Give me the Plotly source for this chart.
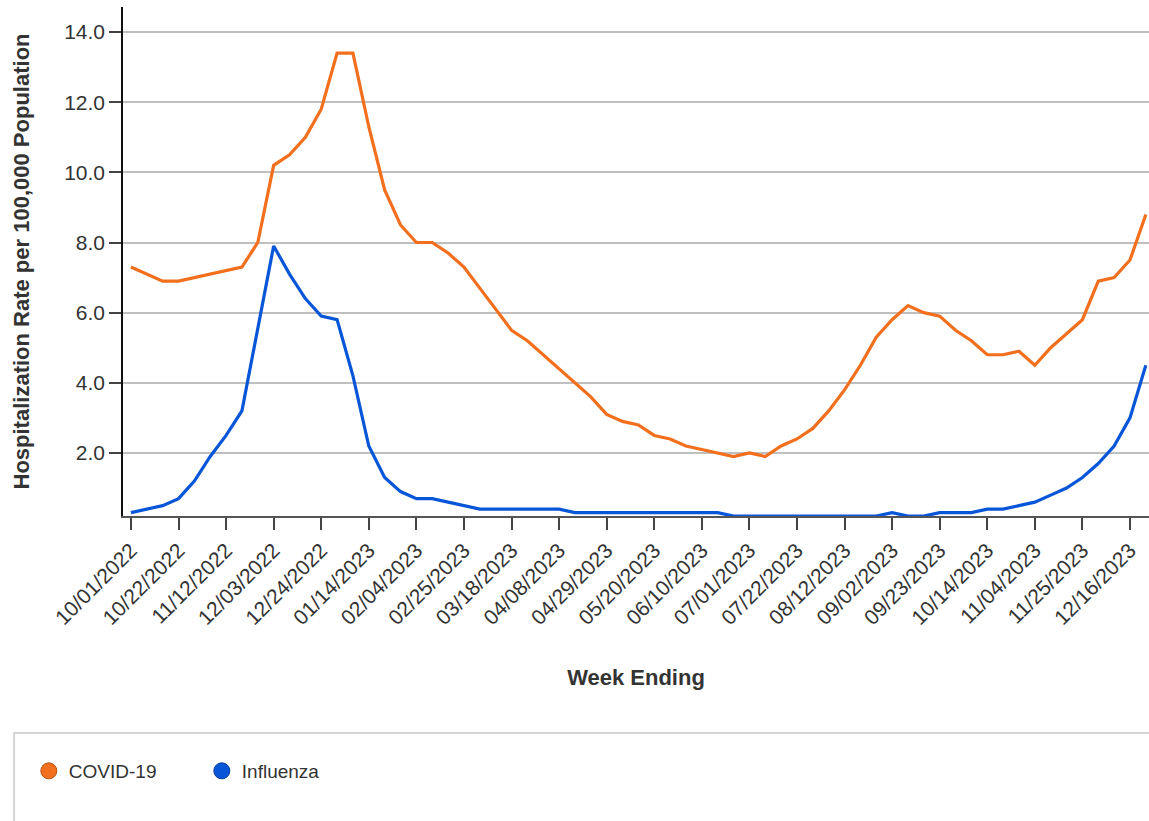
import pandas as pd
import plotly.graph_objects as go

# Week-ending dates (weekly, Saturdays)
week_ending = pd.date_range("2022-10-01", periods=65, freq="7D")

covid_rate = [
    7.3, 7.1, 6.9, 6.9, 7.0, 7.1, 7.2, 7.3, 8.0, 10.2,
    10.5, 11.0, 11.8, 13.4, 13.4, 11.3, 9.5, 8.5, 8.0, 8.0,
    7.7, 7.3, 6.7, 6.1, 5.5, 5.2, 4.8, 4.4, 4.0, 3.6,
    3.1, 2.9, 2.8, 2.5, 2.4, 2.2, 2.1, 2.0, 1.9, 2.0,
    1.9, 2.2, 2.4, 2.7, 3.2, 3.8, 4.5, 5.3, 5.8, 6.2,
    6.0, 5.9, 5.5, 5.2, 4.8, 4.8, 4.9, 4.5, 5.0, 5.4,
    5.8, 6.9, 7.0, 7.5, 8.8,
]

flu_rate = [
    0.3, 0.4, 0.5, 0.7, 1.2, 1.9, 2.5, 3.2, 5.6, 7.9,
    7.1, 6.4, 5.9, 5.8, 4.2, 2.2, 1.3, 0.9, 0.7, 0.7,
    0.6, 0.5, 0.4, 0.4, 0.4, 0.4, 0.4, 0.4, 0.3, 0.3,
    0.3, 0.3, 0.3, 0.3, 0.3, 0.3, 0.3, 0.3, 0.2, 0.2,
    0.2, 0.2, 0.2, 0.2, 0.2, 0.2, 0.2, 0.2, 0.3, 0.2,
    0.2, 0.3, 0.3, 0.3, 0.4, 0.4, 0.5, 0.6, 0.8, 1.0,
    1.3, 1.7, 2.2, 3.0, 4.5,
]

series_names = ["COVID-19", "Influenza"]
y_tick_values = [2, 4, 6, 8, 10, 12, 14]
x_tick_dates = week_ending[::3]
x_tick_labels = [d.strftime("%m/%d/%Y") for d in x_tick_dates]

ORANGE = "#F26F1D"
ORANGE_EDGE = "#B4520F"
BLUE = "#0856D8"
BLUE_EDGE = "#063E9C"
FONT = "Liberation Sans, Arial, Helvetica, sans-serif"
TEXT = "#333333"

fig = go.Figure()

fig.add_trace(go.Scatter(
    x=week_ending, y=covid_rate, mode="lines", name=series_names[0],
    line=dict(color=ORANGE, width=3.2), showlegend=False, legendgroup="c",
))
fig.add_trace(go.Scatter(
    x=week_ending, y=flu_rate, mode="lines", name=series_names[1],
    line=dict(color=BLUE, width=3.2), showlegend=False, legendgroup="f",
))

# legend entries (circle symbols)
fig.add_trace(go.Scatter(
    x=[None], y=[None], mode="markers", name=series_names[0], legendgroup="c",
    marker=dict(symbol="circle", size=16, color=ORANGE, line=dict(color=ORANGE_EDGE, width=1)),
))
fig.add_trace(go.Scatter(
    x=[None], y=[None], mode="markers", name=series_names[1], legendgroup="f",
    marker=dict(symbol="circle", size=16, color=BLUE, line=dict(color=BLUE_EDGE, width=1)),
))

x_start = week_ending[0] - pd.Timedelta(days=3.5)
x_end = week_ending[0] + pd.Timedelta(days=449.4)

fig.update_layout(
    width=1149, height=821,
    margin=dict(l=123, r=0, t=7, b=305),
    paper_bgcolor="white", plot_bgcolor="white",
    font=dict(family=FONT, color=TEXT, size=20),
    showlegend=True,
    legend=dict(
        orientation="h", x=-0.0918, xanchor="left", y=-0.501, yanchor="middle",
        font=dict(family=FONT, size=19, color=TEXT),
        bgcolor="rgba(0,0,0,0)", borderwidth=0,
        entrywidth=128, entrywidthmode="pixels", itemsizing="trace",
    ),
    xaxis=dict(
        type="date", range=[x_start, x_end],
        tickmode="array", tickvals=list(x_tick_dates), ticktext=x_tick_labels,
        tickangle=-45, tickfont=dict(family=FONT, size=21, color=TEXT),
        ticks="outside", ticklen=12, tickwidth=1.5, tickcolor="#444444",
        showline=True, linecolor="#555555", linewidth=1.5,
        showgrid=False, zeroline=False,
        title=dict(text="<b>Week Ending</b>", font=dict(family=FONT, size=22, color=TEXT), standoff=42),
    ),
    yaxis=dict(
        range=[0.204, 14.713],
        tickmode="array", tickvals=y_tick_values,
        tickformat=".1f", tickfont=dict(family=FONT, size=21, color=TEXT),
        ticks="outside", ticklen=12, tickwidth=1.5, tickcolor="#444444",
        showline=True, linecolor="#111111", linewidth=1.5,
        showgrid=True, gridcolor="#bfbfbf", gridwidth=1.5, zeroline=False,
        title=dict(text="<b>Hospitalization Rate per 100,000 Population</b>",
                   font=dict(family=FONT, size=22, color=TEXT), standoff=28),
    ),
    shapes=[dict(
        type="rect", xref="paper", yref="paper",
        x0=-0.1062, x1=1.05, y0=-0.64, y1=-0.4263,
        line=dict(color="#c8c8c8", width=1.5), fillcolor="rgba(0,0,0,0)", layer="below",
    )],
)

fig.write_html(
    "out.html",
    config={"displayModeBar": False},
    post_script="document.body.style.margin='0';document.body.style.overflow='hidden';",
)
